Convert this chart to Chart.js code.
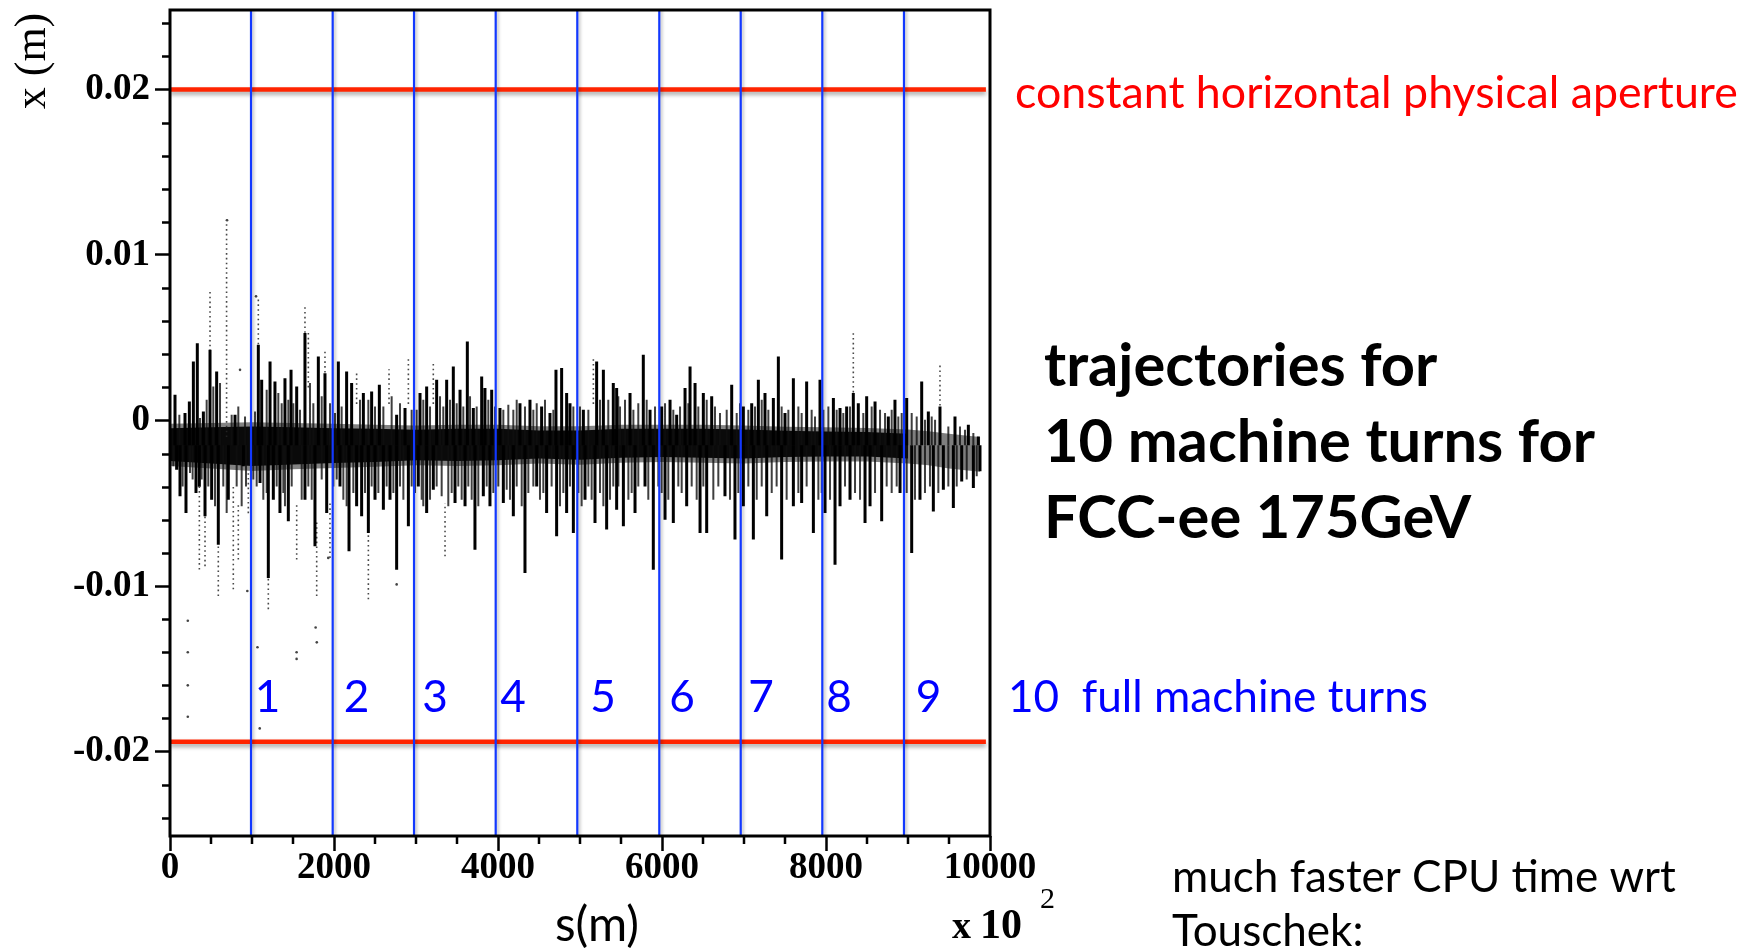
<!DOCTYPE html>
<html>
<head>
<meta charset="utf-8">
<title>FCC-ee 175GeV trajectories</title>
<script src="https://cdn.jsdelivr.net/npm/chart.js@4.4.1/dist/chart.umd.min.js"></script>
<style>
  html, body { margin: 0; padding: 0; background: #fff; }
  #wrap { width: 1755px; height: 950px; position: relative; }
</style>
</head>
<body>
<div id="wrap"><canvas id="c" width="1755" height="950"></canvas></div>
<script>
// s is in units of 100 m (axis reads "x 10^2"), x offsets in millimetres.

// machine turn boundaries and their numbers
const turnS      = [988, 1984, 2976, 3972, 4967, 5967, 6960, 7955, 8951];
const turnLabels = ['1', '2', '3', '4', '5', '6', '7', '8', '9'];
const turnLabelS = [1189, 2274, 3232, 4183, 5280, 6244, 7207, 8159, 9250];
const turnLabelX = -17.6;

// physical aperture (mm)
const apertureX = [20.0, -19.4];
const apertureEndS = 9950;

// axis ticks
const xTicks = [0, 2000, 4000, 6000, 8000, 10000];
const xTickLabels = ['0', '2000', '4000', '6000', '8000', '10000'];
const yTicks = [-20, -10, 0, 10, 20];
const yTickLabels = ['-0.02', '-0.01', '0', '0.01', '0.02'];

// dense core of the trajectories
const coreS    = [0, 500, 1000, 1500, 2000, 2500, 3000, 3500, 4000, 4500, 5000, 5500, 6000, 6500, 7000, 7500, 8000, 8500, 9000];
const coreHi   = [-0.46, -0.40, -0.36, -0.40, -0.46, -0.50, -0.56, -0.50, -0.50, -0.60, -0.60, -0.50, -0.50, -0.50, -0.55, -0.62, -0.66, -0.70, -0.80];
const coreLo   = [-2.45, -2.60, -2.75, -2.65, -2.57, -2.50, -2.40, -2.45, -2.40, -2.30, -2.37, -2.25, -2.20, -2.25, -2.30, -2.20, -2.17, -2.17, -2.30];
const haloHi   = [-0.20, -0.15, -0.10, -0.15, -0.20, -0.25, -0.30, -0.25, -0.25, -0.35, -0.35, -0.25, -0.25, -0.25, -0.30, -0.37, -0.40, -0.45, -0.55];
const haloLo   = [-2.75, -2.90, -3.05, -2.95, -2.87, -2.80, -2.70, -2.75, -2.70, -2.60, -2.67, -2.55, -2.50, -2.55, -2.60, -2.50, -2.47, -2.47, -2.60];
// thinner, greyer tail of the last turn
const tailS    = [9000, 9250, 9500, 9700, 9880];
const tailHi   = [-0.55, -0.65, -0.80, -0.90, -1.00];
const tailLo   = [-2.60, -2.70, -2.90, -3.00, -3.10];
const bandCentre = -1.5;

// large upward excursions
const peakS   = [61, 183, 236, 285, 333, 407, 488, 569, 793, 1077, 1118, 1220, 1280, 1402, 1476, 1545, 1646, 1809, 1890, 2053,
                 2154, 2215, 2358, 2459, 2553, 2764, 2866, 3049, 3130, 3252, 3374, 3455, 3537, 3626, 3699, 3801, 3841, 3923, 4024, 4268,
                 4390, 4532, 4634, 4707, 4776, 4837, 4878, 5041, 5203, 5285, 5406, 5447, 5610, 5772, 5854, 5996, 6098, 6179, 6281, 6342,
                 6403, 6504, 6606, 6850, 6992, 7094, 7175, 7256, 7358, 7419, 7500, 7602, 7764, 7927, 8090, 8171, 8252, 8333, 8394, 8496,
                 8598, 8760, 8841, 8984, 9167, 9248, 9390, 9573, 9736, 9858];
const peakTop = [1.56, 0.45, 1.15, 3.57, 4.67, 0.55, 4.27, 2.96, 0.35, 4.57, 2.46, 3.57, 2.36, 2.56, 3.06, 2.06, 5.28, 3.87, 2.86, 3.57,
                 2.96, 2.26, 1.66, 1.76, 2.16, 0.35, 0.75, 1.66, 2.06, 2.46, 2.46, 3.26, 1.86, 4.77, 0.75, 2.66, 1.96, 1.86, 0.75, 1.05,
                 1.25, 0.85, 0.45, 3.06, 3.17, 1.66, 1.05, 0.65, 3.57, 3.06, 2.26, 1.96, 1.66, 3.97, 0.65, 0.85, 1.25, 0.35, 1.96, 3.26,
                 2.26, 1.66, 1.46, 2.16, 0.85, 1.05, 2.46, 1.66, 1.36, 3.87, 0.45, 2.56, 2.36, 2.46, 1.36, 0.75, 0.85, 1.66, 1.05, 1.46,
                 1.15, 0.25, 1.25, 1.36, 2.36, 0.55, 0.85, 0.25, -0.26, -0.96];

// large downward excursions
const troughS      = [81, 122, 195, 317, 358, 427, 508, 589, 711, 894, 1098, 1199, 1260, 1341, 1443, 1646, 1768, 1911, 2073, 2183,
                      2276, 2337, 2419, 2500, 2602, 2683, 2764, 2907, 3028, 3130, 3211, 3476, 3598, 3719, 3821, 3902, 4065, 4187, 4329, 4472,
                      4593, 4715, 4837, 4919, 5061, 5183, 5325, 5447, 5529, 5671, 5793, 5894, 6037, 6138, 6301, 6464, 6545, 6768, 6890, 6992,
                      7114, 7277, 7459, 7602, 7703, 7846, 7988, 8110, 8171, 8293, 8476, 8537, 8679, 8903, 9045, 9146, 9309, 9431, 9553, 9655,
                      9797, 9878];
const troughBottom = [-2.97, -4.58, -5.59, -4.38, -4.00, -5.79, -4.78, -7.50, -4.78, -2.77, -3.78, -9.51, -4.78, -5.59, -6.09, -4.78, -7.60, -5.59, -3.98, -7.90,
                      -5.18, -5.79, -6.79, -4.78, -5.39, -4.78, -9.01, -6.39, -3.98, -5.59, -4.18, -4.98, -5.18, -7.80, -4.58, -5.18, -4.98, -5.79, -9.21, -3.98,
                      -5.59, -6.99, -5.59, -6.79, -4.78, -6.19, -6.59, -5.39, -6.39, -5.59, -3.98, -9.01, -5.99, -6.19, -5.18, -6.79, -6.79, -4.58, -7.19, -5.18,
                      -7.19, -5.79, -8.40, -5.18, -4.98, -6.79, -5.59, -8.71, -5.18, -4.78, -6.19, -5.18, -6.09, -4.38, -8.00, -4.78, -5.49, -4.18, -5.29, -3.68,
                      -4.08, -3.07];

// smaller streaks along the upper edge of the core
const fringeUpS = [114, 366, 447, 528, 610, 752, 833, 915, 1037, 1179, 1321, 1362, 1443, 1504, 1585, 1707, 1748, 1850, 1951, 2012,
                   2093, 2317, 2419, 2500, 2602, 2703, 2805, 2947, 3008, 3089, 3171, 3293, 3333, 3415, 3496, 3577, 3659, 3740, 3882, 3963,
                   4065, 4126, 4187, 4228, 4329, 4431, 4472, 4573, 4675, 4919, 5000, 5102, 5244, 5345, 5467, 5488, 5549, 5651, 5711, 5813,
                   5915, 6037, 6138, 6220, 6321, 6443, 6545, 6646, 6707, 6789, 6911, 6951, 7053, 7134, 7216, 7297, 7459, 7541, 7663, 7703,
                   7825, 7866, 7968, 8029, 8130, 8211, 8293, 8455, 8557, 8659, 8720, 8801, 8882, 8923, 9045, 9106, 9207, 9289, 9330, 9492,
                   9634, 9695, 9797];
const fringeUpX = [0.35, 0.15, 1.25, 2.06, 2.26, 0.35, 0.85, 0.25, 0.55, 1.86, 1.66, 1.05, 1.25, 1.05, 0.65, 2.26, 1.05, 1.46, 1.05, 0.45,
                   0.85, 1.25, 1.25, 0.85, 0.85, 1.46, 1.05, 0.65, 0.65, 1.25, 0.85, 1.46, 0.85, 1.25, 1.05, 0.85, 1.46, 0.85, 1.25, 0.85,
                   0.65, 0.95, 0.65, 1.25, 0.85, 0.65, 1.05, 1.25, 0.65, 0.85, 0.85, 0.65, 1.25, 1.25, 1.46, 0.85, 1.25, 0.65, 1.05, 1.25,
                   0.85, 1.05, 0.65, 0.85, 1.05, 0.85, 1.25, 0.85, 0.45, 0.65, 0.45, 1.05, 0.65, 0.85, 1.25, 0.65, 0.85, 0.65, 0.85, 0.45,
                   0.65, 0.25, 0.65, 0.85, 0.65, 0.45, 0.85, 0.45, 0.85, 0.65, 0.45, 0.65, 0.25, 0.45, 0.45, 0.25, 0.05, 0.25, 0.05, -0.36,
                   -0.36, -0.56, -0.76];

// smaller streaks along the lower edge of the core
const fringeDownS = [41, 154, 244, 276, 386, 467, 549, 650, 691, 813, 874, 927, 1016, 1057, 1138, 1179, 1301, 1382, 1402, 1484,
                     1606, 1687, 1728, 1850, 1992, 2033, 2114, 2154, 2236, 2378, 2459, 2541, 2642, 2724, 2805, 2846, 2947, 2988, 3069, 3089,
                     3171, 3252, 3313, 3394, 3435, 3516, 3557, 3638, 3679, 3760, 3862, 3943, 4004, 4106, 4146, 4228, 4289, 4370, 4431, 4512,
                     4553, 4654, 4756, 4797, 4878, 4980, 5020, 5102, 5142, 5244, 5285, 5366, 5406, 5468, 5590, 5630, 5711, 5833, 5955, 5996,
                     6077, 6199, 6240, 6362, 6423, 6504, 6626, 6687, 6829, 6931, 7053, 7155, 7216, 7338, 7398, 7520, 7663, 7764, 7907, 7947,
                     8049, 8232, 8354, 8415, 8598, 8740, 8801, 8862, 8984, 9085, 9207, 9268, 9370, 9492, 9594, 9716, 9838];
const fringeDownX = [-2.77, -3.98, -3.17, -3.57, -3.57, -3.98, -5.18, -3.98, -5.59, -3.98, -5.18, -3.98, -3.57, -3.98, -4.78, -4.38, -3.98, -4.38, -5.18, -3.98,
                     -4.78, -3.98, -4.78, -3.57, -3.98, -3.57, -4.78, -5.18, -4.38, -4.38, -3.98, -4.38, -3.98, -4.38, -3.98, -4.78, -3.98, -4.38, -4.78, -5.18,
                     -4.78, -3.98, -4.58, -5.18, -4.38, -3.98, -4.78, -3.98, -4.78, -5.18, -3.98, -4.38, -3.98, -4.18, -4.78, -3.98, -5.18, -4.38, -3.98, -4.78,
                     -4.38, -3.98, -5.18, -4.38, -3.98, -4.38, -5.18, -3.98, -4.78, -4.38, -5.18, -4.78, -3.98, -3.98, -4.78, -4.38, -3.98, -4.78, -3.98, -4.38,
                     -4.78, -3.98, -4.38, -3.98, -4.78, -3.98, -4.78, -3.98, -4.78, -4.38, -3.98, -4.78, -3.98, -4.38, -3.98, -4.78, -4.38, -3.98, -4.78, -4.38,
                     -4.78, -3.98, -4.38, -4.78, -4.38, -3.98, -4.38, -3.98, -4.38, -4.78, -4.38, -3.98, -4.38, -3.98, -3.98, -3.57, -3.37];

// sparsely sampled columns (dotted)
const sparseS  = [358, 427, 488, 589, 690, 772, 833, 955, 1077, 1199, 1545, 1646, 1687, 1789, 1890, 1951, 2276, 2419, 2671, 2907, 3211, 3354, 5163, 8333, 9390];
const sparseLo = [-9.0, -8.8, 1.0, -10.6, -1.0, -10.2, -8.4, -5.6, 4.6, -11.4, -8.4, 5.3, 2.0, -10.6, 2.9, -8.3, 1.0, -10.8, 1.0, 1.0, 1.0, -8.2, 1.0, 1.7, 0.9];
const sparseHi = [-4.0, -5.8, 7.9, -7.5, 12.2, -4.0, -5.0, -3.0, 7.5, -9.5, -5.0, 7.0, 5.3, -6.0, 4.3, -5.0, 3.0, -6.8, 3.1, 3.9, 3.5, -5.0, 3.7, 5.3, 3.4];

// isolated particles far from the core
const strayS = [217, 217, 217, 217, 696, 854, 943, 1049, 1067, 1094, 1544, 1544, 1776, 1790, 1930, 2764];
const strayX = [-12.1, -14.0, -16.0, -17.9, 12.1, 3.06, -10.3, 7.5, -13.7, -18.6, -14.0, -14.4, -12.5, -13.4, -8.3, -9.9];

// axis range (mm)
const yMin = -25.1, yMax = 24.8;

const mm = v => v / 1000;

function columns(sArr, lo, hi) {
  const out = [];
  sArr.forEach((s, i) => {
    const a = Array.isArray(lo) ? lo[i] : lo;
    const b = Array.isArray(hi) ? hi[i] : hi;
    out.push({ x: s, y: mm(a) }, { x: s, y: mm(b) }, { x: s, y: null });
  });
  return out;
}
function series(sArr, vArr) { return sArr.map((s, i) => ({ x: s, y: mm(vArr[i]) })); }

const SERIF = '"Liberation Serif", "Times New Roman", serif';
const SANS = 'Lato, "Open Sans", sans-serif';

// drop shadow for the overlay lines
const shadowPlugin = {
  id: 'lineShadow',
  beforeDatasetDraw(chart, args) {
    const ds = chart.data.datasets[args.index];
    if (!ds.shadow) return;
    const c = chart.ctx;
    c.save();
    c.shadowColor = ds.shadow.color;
    c.shadowBlur = ds.shadow.blur;
    c.shadowOffsetX = ds.shadow.dx;
    c.shadowOffsetY = ds.shadow.dy;
  },
  afterDatasetDraw(chart, args) {
    if (chart.data.datasets[args.index].shadow) chart.ctx.restore();
  }
};

// frame round the plot plus minor tick marks
const framePlugin = {
  id: 'frame',
  afterDatasetsDraw(chart) {
    const { ctx, chartArea: a, scales } = chart;
    ctx.save();
    ctx.strokeStyle = '#000';
    ctx.lineWidth = 2.5;
    ctx.beginPath();
    for (let v = -24; v <= 24; v += 2) {
      if (v % 10 === 0) continue;
      const y = Math.round(scales.y.getPixelForValue(mm(v))) + 0.5;
      ctx.moveTo(a.left - 8, y); ctx.lineTo(a.left, y);
    }
    for (let s = 500; s < 10000; s += 500) {
      if (s % 2000 === 0) continue;
      const x = scales.x.getPixelForValue(s);
      ctx.moveTo(x, a.bottom); ctx.lineTo(x, a.bottom + 8);
    }
    ctx.stroke();
    ctx.lineWidth = 3;
    ctx.strokeRect(a.left, a.top, a.right - a.left, a.bottom - a.top);
    ctx.restore();
  }
};

// titles and notes beside the plot
function fitSize(ctx, text, weight, family, width) {
  ctx.font = `${weight} 100px ${family}`;
  return 100 * width / ctx.measureText(text).width;
}
const notesPlugin = {
  id: 'notes',
  afterDraw(chart) {
    const { ctx, scales } = chart;
    ctx.save();
    ctx.textBaseline = 'alphabetic';
    ctx.textAlign = 'left';

    // y axis title
    ctx.save();
    ctx.translate(33, 61);
    ctx.rotate(-Math.PI / 2);
    ctx.textAlign = 'center';
    ctx.textBaseline = 'middle';
    ctx.fillStyle = '#000';
    ctx.font = `400 44px ${SERIF}`;
    ctx.fillText('x (m)', 0, 0);
    ctx.restore();

    // x axis title and multiplier
    ctx.fillStyle = '#000';
    let sz = fitSize(ctx, 's(m)', 400, SANS, 84);
    ctx.font = `400 ${sz}px ${SANS}`;
    ctx.fillText('s(m)', 555, 941);
    ctx.font = `700 38px ${SERIF}`;
    ctx.fillText('x', 952, 938);
    ctx.font = `700 42px ${SERIF}`;
    ctx.fillText('10', 980, 938);
    ctx.font = `400 30px ${SERIF}`;
    ctx.fillText('2', 1040, 908);

    // aperture note
    ctx.fillStyle = '#ff0000';
    sz = fitSize(ctx, 'constant horizontal physical aperture', 400, SANS, 723);
    ctx.font = `400 ${sz}px ${SANS}`;
    ctx.fillText('constant horizontal physical aperture', 1015, 108);

    // heading
    ctx.fillStyle = '#000';
    sz = fitSize(ctx, '10 machine turns for', 700, SANS, 551);
    ctx.font = `700 ${sz}px ${SANS}`;
    ctx.fillText('trajectories for', 1044, 386);
    ctx.fillText('10 machine turns for', 1044, 462);
    ctx.fillText('FCC-ee 175GeV', 1044, 538);

    // turn numbers
    ctx.fillStyle = '#0000ff';
    sz = fitSize(ctx, '10  full machine turns', 400, SANS, 420);
    ctx.font = `400 ${sz}px ${SANS}`;
    ctx.fillText('10  full machine turns', 1008, 712);
    ctx.textAlign = 'center';
    const yl = scales.y.getPixelForValue(mm(turnLabelX));
    turnLabels.forEach((t, i) => ctx.fillText(t, scales.x.getPixelForValue(turnLabelS[i]), yl));
    ctx.textAlign = 'left';

    // CPU note
    ctx.fillStyle = '#000';
    sz = fitSize(ctx, 'much faster CPU time wrt', 400, SANS, 504);
    ctx.font = `400 ${sz}px ${SANS}`;
    ctx.fillText('much faster CPU time wrt', 1172, 892);
    ctx.fillText('Touschek:', 1172, 946);
    ctx.restore();
  }
};

function draw() {
  const datasets = [
    { label: 'halo top', data: series(coreS, haloHi), borderWidth: 0, pointRadius: 0, fill: false, order: 9 },
    { label: 'halo', data: series(coreS, haloLo), borderWidth: 0, pointRadius: 0, fill: '-1', backgroundColor: 'rgba(30,30,30,0.55)', order: 9 },
    { label: 'core top', data: series(coreS, coreHi), borderWidth: 0, pointRadius: 0, fill: false, order: 8 },
    { label: 'core', data: series(coreS, coreLo), borderWidth: 0, pointRadius: 0, fill: '-1', backgroundColor: 'rgba(0,0,0,0.92)', order: 8 },
    { label: 'tail top', data: series(tailS, tailHi), borderWidth: 0, pointRadius: 0, fill: false, order: 8 },
    { label: 'tail', data: series(tailS, tailLo), borderWidth: 0, pointRadius: 0, fill: '-1', backgroundColor: 'rgba(40,40,40,0.6)', order: 8 },
    { label: 'fringe up', data: columns(fringeUpS, bandCentre, fringeUpX), borderColor: 'rgba(15,15,15,0.8)', borderWidth: 2, pointRadius: 0, fill: false, order: 7 },
    { label: 'fringe down', data: columns(fringeDownS, bandCentre, fringeDownX), borderColor: 'rgba(15,15,15,0.8)', borderWidth: 2, pointRadius: 0, fill: false, order: 7 },
    { label: 'sparse', data: columns(sparseS, sparseLo, sparseHi), borderColor: 'rgba(40,40,40,0.85)', borderWidth: 1.6, borderDash: [1.6, 3.2], pointRadius: 0, fill: false, order: 7 },
    { label: 'peaks', data: columns(peakS, bandCentre, peakTop), borderColor: '#000', borderWidth: 3, pointRadius: 0, fill: false, order: 6 },
    { label: 'troughs', data: columns(troughS, bandCentre, troughBottom), borderColor: '#000', borderWidth: 3, pointRadius: 0, fill: false, order: 6 },
    { label: 'stray', data: series(strayS, strayX), showLine: false, pointRadius: 1.3, pointBorderWidth: 0, pointBackgroundColor: '#444', order: 5 }
  ];
  apertureX.forEach((v, i) => datasets.push({
    label: 'aperture ' + i,
    data: [{ x: 0, y: mm(v) }, { x: apertureEndS, y: mm(v) }],
    borderColor: '#ff2400', borderWidth: 4.5, pointRadius: 0, fill: false, order: 3,
    shadow: { color: 'rgba(0,0,0,0.35)', blur: 4, dx: 0, dy: 3 }
  }));
  datasets.push({
    label: 'turns',
    data: columns(turnS, yMin, yMax),
    borderColor: '#1238ff', borderWidth: 2.2, pointRadius: 0, fill: false, order: 1,
    shadow: { color: 'rgba(0,0,0,0.25)', blur: 3, dx: 2, dy: 0 }
  });

  new Chart(document.getElementById('c'), {
    type: 'line',
    data: { datasets },
    options: {
      responsive: false,
      animation: false,
      devicePixelRatio: 1,
      events: [],
      layout: { padding: { left: 0, top: 10, right: 765, bottom: 0 } },
      plugins: { legend: { display: false }, tooltip: { enabled: false }, filler: { propagate: false } },
      scales: {
        x: {
          type: 'linear', min: 0, max: 10000,
          afterBuildTicks: s => { s.ticks = xTicks.map(v => ({ value: v })); },
          afterFit: s => { s.height = 114; s.paddingLeft = 0; s.paddingRight = 0; },
          ticks: {
            color: '#000', maxRotation: 0, autoSkip: false, padding: -5,
            font: { family: SERIF, size: 37, weight: 'bold' },
            callback: (v, i) => xTickLabels[i]
          },
          grid: { drawOnChartArea: false, drawTicks: true, tickLength: 15, tickWidth: 2.5, tickColor: '#000' },
          border: { display: false }
        },
        y: {
          type: 'linear', min: mm(yMin), max: mm(yMax),
          afterBuildTicks: s => { s.ticks = yTicks.map(v => ({ value: mm(v) })); },
          afterFit: s => { s.width = 170; s.paddingTop = 0; s.paddingBottom = 0; },
          ticks: {
            color: '#000', padding: 5, autoSkip: false,
            font: { family: SERIF, size: 37, weight: 'bold' },
            callback: (v, i) => yTickLabels[i]
          },
          grid: { drawOnChartArea: false, drawTicks: true, tickLength: 15, tickWidth: 2.5, tickColor: '#000' },
          border: { display: false }
        }
      }
    },
    plugins: [shadowPlugin, framePlugin, notesPlugin]
  });
}

const faces = ['400 40px Lato', '700 40px Lato', '400 40px "Liberation Serif"', '700 40px "Liberation Serif"'];
(document.fonts ? Promise.all(faces.map(f => document.fonts.load(f))).catch(() => {}) : Promise.resolve()).then(draw);
</script>
</body>
</html>
